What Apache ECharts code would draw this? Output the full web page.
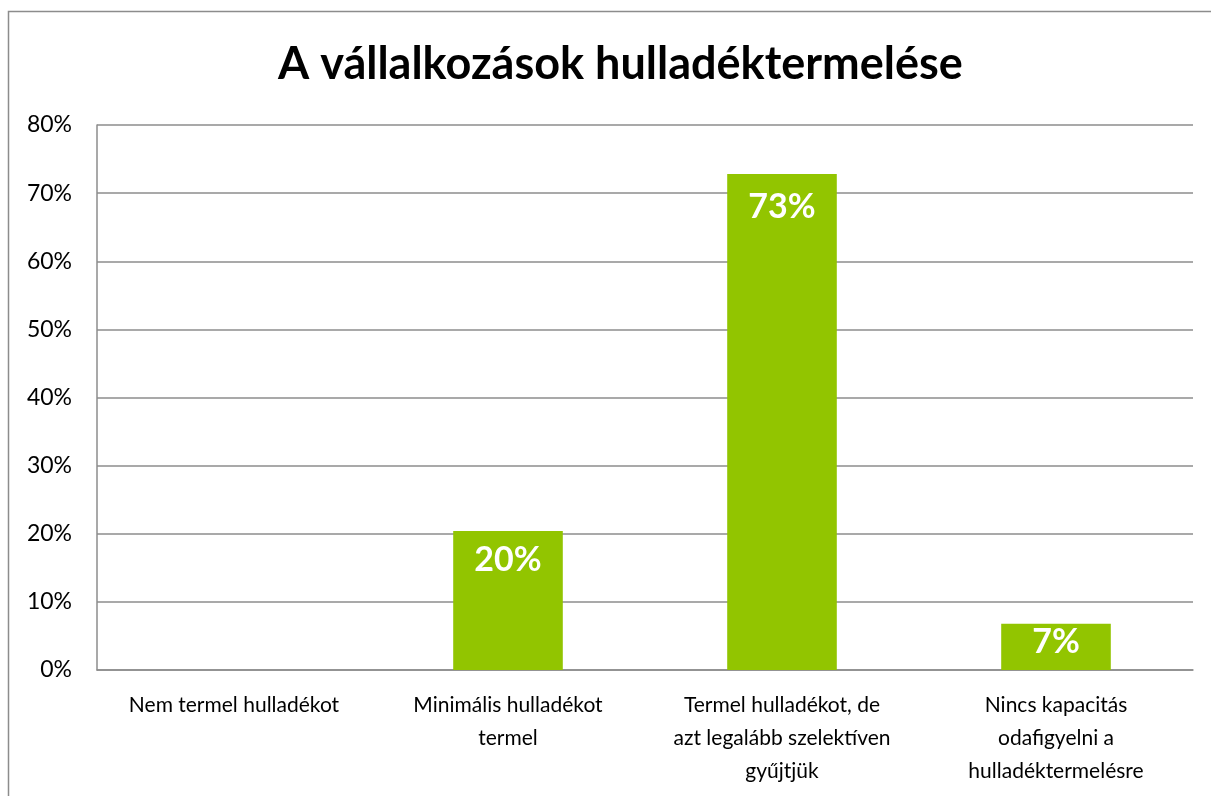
<!DOCTYPE html>
<html>
<head>
<meta charset="utf-8">
<script src="https://cdn.jsdelivr.net/npm/echarts@6/dist/echarts.min.js"></script>
<style>
html,body{margin:0;padding:0;background:#fff;}
#chart{width:1211px;height:796px;}
</style>
</head>
<body>
<div id="chart"></div>
<script>
const title = "A vállalkozások hulladéktermelése";
const categories = [
  "Nem termel hulladékot",
  "Minimális hulladékot\ntermel",
  "Termel hulladékot, de\nazt legalább szelektíven\ngyűjtjük",
  "Nincs kapacitás\nodafigyelni a\nhulladéktermelésre"
];
const values = [0, 20.4, 72.8, 6.8];
const yTicks = [0, 10, 20, 30, 40, 50, 60, 70, 80];

const labelDistance = [18, 12, 16, 1];
const chart = echarts.init(document.getElementById('chart'));
chart.setOption({
  animation: false,
  title: {
    text: title,
    left: 273,
    top: 37,
    textStyle: {fontFamily: 'Lato', fontWeight: 'bold', fontSize: 45, color: '#000'}
  },
  graphic: [{
    type: 'rect',
    shape: {x: 8.5, y: 11.5, width: 1300, height: 900},
    style: {fill: 'none', stroke: '#8c8c8c', lineWidth: 1.5},
    silent: true
  }],
  grid: {left: 97, right: 18, top: 125, bottom: 126, containLabel: false},
  xAxis: {
    type: 'category',
    data: categories,
    axisLine: {lineStyle: {color: '#8c8c8c', width: 1.5}},
    axisTick: {show: false},
    axisLabel: {
      fontFamily: 'Lato', fontSize: 21, color: '#000', lineHeight: 33,
      margin: 19, interval: 0
    }
  },
  yAxis: {
    type: 'value',
    min: yTicks[0],
    max: yTicks[yTicks.length - 1],
    interval: 10,
    axisLine: {show: true, lineStyle: {color: '#8c8c8c', width: 1.5}},
    axisTick: {show: false},
    splitLine: {lineStyle: {color: '#8c8c8c', width: 1.5}},
    axisLabel: {
      fontFamily: 'Lato', fontSize: 23, color: '#000', margin: 25,
      formatter: v => v + '%'
    }
  },
  series: [{
    type: 'bar',
    barWidth: '40%',
    itemStyle: {color: '#92C500'},
    data: values.map((v, i) => ({
      value: v,
      label: {
        show: v > 0,
        position: 'insideTop',
        distance: labelDistance[i],
        color: '#fff',
        fontFamily: 'Lato',
        fontWeight: 'bold',
        fontSize: 34,
        formatter: p => Math.round(p.value) + '%'
      }
    }))
  }]
});
</script>
</body>
</html>
